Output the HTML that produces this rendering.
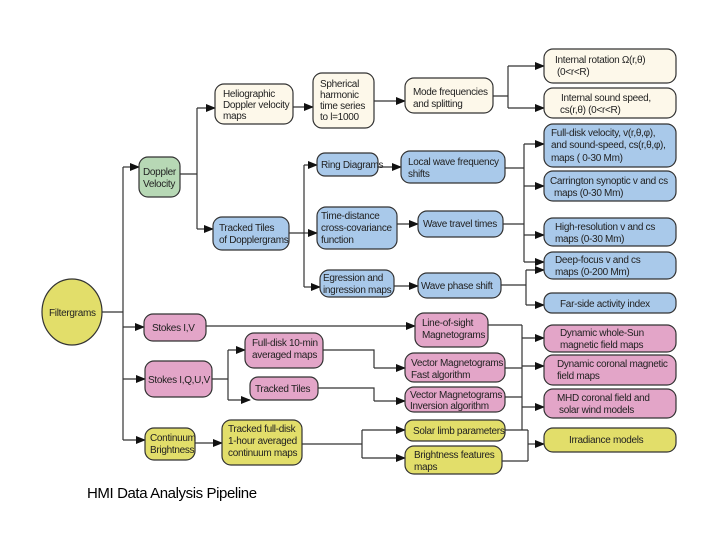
<!DOCTYPE html>
<html><head><meta charset="utf-8"><style>
html,body{margin:0;padding:0;background:#fff;}
svg{display:block;font-family:"Liberation Sans",Arial,sans-serif;}
text{font-size:10px;fill:#222;letter-spacing:-0.3px;}
.c{fill:#fdf8ea;stroke:#333;stroke-width:1.2}
.b{fill:#a9c9ea;stroke:#333;stroke-width:1.2}
.p{fill:#e3a5c8;stroke:#333;stroke-width:1.2}
.y{fill:#e2de6a;stroke:#333;stroke-width:1.2}
.g{fill:#b7d8b5;stroke:#333;stroke-width:1.2}
.l{fill:none;stroke:#333;stroke-width:1.2}
</style></head><body>
<svg width="720" height="540" viewBox="0 0 720 540">
<defs><marker id="a" markerWidth="10" markerHeight="8" refX="9" refY="4" orient="auto" markerUnits="userSpaceOnUse"><path d="M0,0 L10,4 L0,8 z" fill="#111"/></marker></defs>
<g class="l">
<path d="M102,312 H123 M123,167 V440"/>
<path d="M123,167 H139" marker-end="url(#a)"/>
<path d="M123,327 H144" marker-end="url(#a)"/>
<path d="M123,379 H145" marker-end="url(#a)"/>
<path d="M123,440 H145" marker-end="url(#a)"/>
<path d="M180,174 H197 M197,108 V229"/>
<path d="M197,108 H215" marker-end="url(#a)"/>
<path d="M197,229 H213" marker-end="url(#a)"/>
<path d="M293,107 H313" marker-end="url(#a)"/>
<path d="M374,101 H405" marker-end="url(#a)"/>
<path d="M493,96 H508 M508,66 V108"/>
<path d="M508,66 H544" marker-end="url(#a)"/>
<path d="M508,108 H544" marker-end="url(#a)"/>
<path d="M289,233 H304 M304,165 V287"/>
<path d="M304,165 H317" marker-end="url(#a)"/>
<path d="M304,233 H317" marker-end="url(#a)"/>
<path d="M304,287 H320" marker-end="url(#a)"/>
<path d="M378,167 H401" marker-end="url(#a)"/>
<path d="M397,224 H418" marker-end="url(#a)"/>
<path d="M394,286 H418" marker-end="url(#a)"/>
<path d="M505,168 H524 M503,224 H524 M524,144 V262"/>
<path d="M524,144 H544" marker-end="url(#a)"/>
<path d="M524,186 H544" marker-end="url(#a)"/>
<path d="M524,235 H544" marker-end="url(#a)"/>
<path d="M524,262 H544" marker-end="url(#a)"/>
<path d="M501,285 H526 M526,270 V305"/>
<path d="M526,270 H544" marker-end="url(#a)"/>
<path d="M526,305 H544" marker-end="url(#a)"/>
<path d="M206,326 H415" marker-end="url(#a)"/>
<path d="M212,379 H228 M228,350 V400"/>
<path d="M228,350 H245" marker-end="url(#a)"/>
<path d="M228,400 H250" marker-end="url(#a)"/>
<path d="M323,350 H374 V368"/>
<path d="M374,368 H405" marker-end="url(#a)"/>
<path d="M318,388 H374 V401"/>
<path d="M374,401 H405" marker-end="url(#a)"/>
<path d="M302,444 H362 M362,430 V458"/>
<path d="M362,430 H405" marker-end="url(#a)"/>
<path d="M362,458 H405" marker-end="url(#a)"/>
<path d="M195,443 H222" marker-end="url(#a)"/>
<path d="M488,325 H522 M505,368 H522 M505,397 H522 M522,325 V430 M505,430 H528"/>
<path d="M522,338 H544" marker-end="url(#a)"/>
<path d="M522,366 H544" marker-end="url(#a)"/>
<path d="M522,407 H544" marker-end="url(#a)"/>
<path d="M502,461 H528 M528,430 V461"/>
<path d="M528,444 H544" marker-end="url(#a)"/>
</g>
<ellipse cx="72" cy="312" rx="30" ry="33" class="y"/>
<text x="49" y="316">Filtergrams</text>
<rect x="139" y="157" width="41" height="40" rx="9" class="g"/>
<text x="143" y="175">Doppler</text><text x="143" y="187">Velocity</text>
<rect x="215" y="84" width="78" height="40" rx="9" class="c"/>
<text x="223" y="97">Heliographic</text><text x="223" y="108">Doppler velocity</text><text x="223" y="119">maps</text>
<rect x="313" y="73" width="61" height="55" rx="9" class="c"/>
<text x="320" y="87">Spherical</text><text x="320" y="98">harmonic</text><text x="320" y="109">time series</text><text x="320" y="120">to l=1000</text>
<rect x="405" y="78" width="88" height="35" rx="9" class="c"/>
<text x="413" y="95">Mode frequencies</text><text x="413" y="107">and splitting</text>
<rect x="544" y="49" width="132" height="34" rx="9" class="c"/>
<text x="555" y="63">Internal rotation Ω(r,θ)</text><text x="557" y="75">(0&lt;r&lt;R)</text>
<rect x="544" y="88" width="132" height="30" rx="9" class="c"/>
<text x="561" y="101">Internal sound speed,</text><text x="560" y="113">cs(r,θ) (0&lt;r&lt;R)</text>
<rect x="213" y="217" width="76" height="33" rx="9" class="b"/>
<text x="219" y="231">Tracked Tiles</text><text x="219" y="243">of Dopplergrams</text>
<rect x="317" y="153" width="61" height="23" rx="8" class="b"/>
<text x="321" y="168">Ring Diagrams</text>
<rect x="401" y="151" width="104" height="32" rx="9" class="b"/>
<text x="408" y="165">Local wave frequency</text><text x="408" y="177">shifts</text>
<rect x="317" y="207" width="80" height="42" rx="9" class="b"/>
<text x="321" y="219">Time-distance</text><text x="321" y="231">cross-covariance</text><text x="321" y="243">function</text>
<rect x="418" y="211" width="85" height="26" rx="9" class="b"/>
<text x="423" y="227">Wave travel times</text>
<rect x="320" y="270" width="74" height="27" rx="9" class="b"/>
<text x="323" y="281">Egression and</text><text x="323" y="293">ingression maps</text>
<rect x="418" y="273" width="83" height="25" rx="9" class="b"/>
<text x="421" y="289">Wave phase shift</text>
<rect x="544" y="124" width="132" height="43" rx="9" class="b"/>
<text x="551" y="136">Full-disk velocity,  v(r,θ,φ),</text><text x="551" y="148">and sound-speed,  cs(r,θ,φ),</text><text x="551" y="161">maps ( 0-30 Mm)</text>
<rect x="544" y="171" width="132" height="30" rx="9" class="b"/>
<text x="550" y="184">Carrington synoptic  v  and cs</text><text x="554" y="196">maps (0-30 Mm)</text>
<rect x="544" y="218" width="132" height="28" rx="9" class="b"/>
<text x="555" y="230">High-resolution  v  and  cs</text><text x="555" y="242">maps (0-30 Mm)</text>
<rect x="544" y="252" width="132" height="27" rx="9" class="b"/>
<text x="555" y="263">Deep-focus  v  and  cs</text><text x="555" y="275">maps  (0-200 Mm)</text>
<rect x="544" y="293" width="132" height="20" rx="8" class="b"/>
<text x="560" y="307">Far-side  activity  index</text>
<rect x="144" y="314" width="62" height="27" rx="9" class="p"/>
<text x="152" y="331">Stokes I,V</text>
<rect x="245" y="333" width="78" height="35" rx="9" class="p"/>
<text x="252" y="346">Full-disk 10-min</text><text x="252" y="358">averaged maps</text>
<rect x="145" y="361" width="67" height="36" rx="9" class="p"/>
<text x="148" y="383">Stokes I,Q,U,V</text>
<rect x="250" y="377" width="68" height="23" rx="8" class="p"/>
<text x="255" y="392">Tracked Tiles</text>
<rect x="415" y="313" width="73" height="34" rx="9" class="p"/>
<text x="422" y="326">Line-of-sight</text><text x="422" y="338">Magnetograms</text>
<rect x="405" y="353" width="100" height="29" rx="9" class="p"/>
<text x="411" y="366">Vector Magnetograms</text><text x="411" y="378">Fast algorithm</text>
<rect x="405" y="387" width="100" height="25" rx="9" class="p"/>
<text x="410" y="398">Vector Magnetograms</text><text x="410" y="409">Inversion algorithm</text>
<rect x="544" y="325" width="132" height="27" rx="9" class="p"/>
<text x="560" y="336">Dynamic  whole-Sun</text><text x="560" y="348">magnetic  field  maps</text>
<rect x="544" y="355" width="132" height="30" rx="9" class="p"/>
<text x="557" y="367">Dynamic coronal magnetic</text><text x="557" y="379">field maps</text>
<rect x="544" y="389" width="132" height="29" rx="9" class="p"/>
<text x="557" y="401">MHD  coronal  field and</text><text x="559" y="413">solar  wind  models</text>
<rect x="145" y="428" width="50" height="32" rx="9" class="y"/>
<text x="150" y="441">Continuum</text><text x="150" y="453">Brightness</text>
<rect x="222" y="420" width="80" height="45" rx="9" class="y"/>
<text x="228" y="432">Tracked full-disk</text><text x="228" y="444">1-hour averaged</text><text x="228" y="456">continuum maps</text>
<rect x="405" y="420" width="100" height="21" rx="8" class="y"/>
<text x="413" y="434">Solar limb parameters</text>
<rect x="405" y="446" width="97" height="28" rx="9" class="y"/>
<text x="414" y="458">Brightness features</text><text x="414" y="470">maps</text>
<rect x="544" y="428" width="132" height="24" rx="9" class="y"/>
<text x="569" y="443">Irradiance models</text>
<text x="87" y="498" style="font-size:15px;fill:#000;letter-spacing:-0.4px">HMI Data Analysis Pipeline</text>
</svg>
</body></html>
